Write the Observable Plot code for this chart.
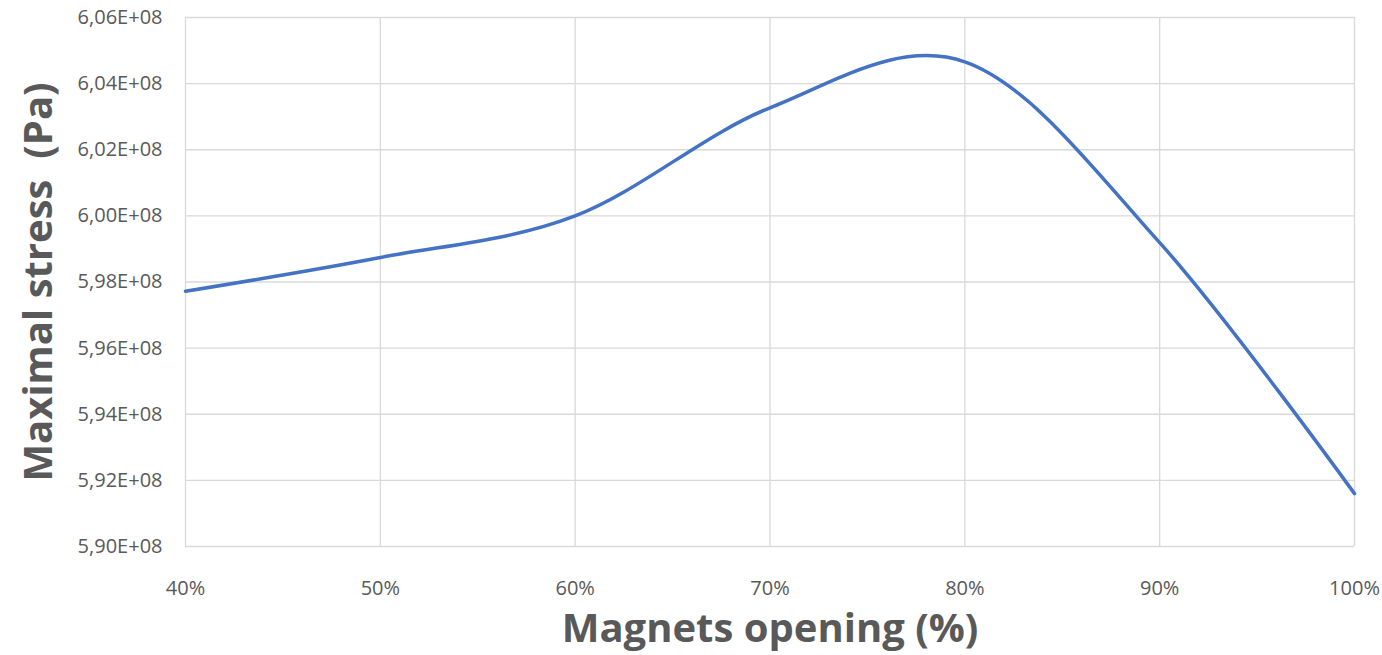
<!DOCTYPE html>
<html>
<head>
<meta charset="utf-8">
<script src="https://cdn.jsdelivr.net/npm/d3@7"></script>
<script src="https://cdn.jsdelivr.net/npm/@observablehq/plot@0.6"></script>
<style>
  html, body { margin: 0; padding: 0; background: #fff; }
  #chart svg { display: block; }
</style>
</head>
<body>
<div id="chart"></div>
<script>
// Data
const opening = [40, 50, 60, 70, 80, 90, 100];            // Magnets opening (%)
const stress = [5.9772e8, 5.9874e8, 6.0000e8, 6.0327e8, 6.0466e8, 5.9919e8, 5.9160e8]; // Maximal stress (Pa)
const xTicks = [40, 50, 60, 70, 80, 90, 100];
const yTicks = [5.90e8, 5.92e8, 5.94e8, 5.96e8, 5.98e8, 6.00e8, 6.02e8, 6.04e8, 6.06e8];
const xTitle = "Magnets opening (%)";
const yTitle = "Maximal stress \u00a0(Pa)";

const data = opening.map((x, i) => ({x, y: stress[i]}));
const fmtY = d => (d / 1e8).toFixed(2).replace(".", ",") + "E+08";
const fmtX = d => d + "%";

const font = "'Open Sans', 'Liberation Sans', sans-serif";
const gridColor = "#d9d9d9";
const textColor = "#595959";

const chart = Plot.plot({
  width: 1382,
  height: 655,
  marginLeft: 185,
  marginRight: 28,
  marginTop: 17,
  marginBottom: 109,
  style: {fontFamily: font, background: "#fff"},
  x: {domain: [40, 100]},
  y: {domain: [5.90e8, 6.06e8]},
  marks: [
    Plot.gridX(xTicks, {stroke: gridColor, strokeOpacity: 1, strokeWidth: 1.3}),
    Plot.gridY(yTicks, {stroke: gridColor, strokeOpacity: 1, strokeWidth: 1.3}),
    Plot.axisX(xTicks, {tickFormat: fmtX, tickSize: 0, tickPadding: 34, fontSize: 20, fill: textColor, label: null}),
    Plot.axisY(yTicks, {tickFormat: fmtY, tickSize: 0, tickPadding: 23, fontSize: 20, fill: textColor, label: null}),
    Plot.line(data, {x: "x", y: "y", stroke: "#4472C4", strokeWidth: 3.5, curve: "catmull-rom", tension: 0}),
    Plot.text([xTitle], {frameAnchor: "bottom", textAnchor: "middle", lineAnchor: "middle", dy: 83, fontSize: 40, fontWeight: "bold", fill: textColor}),
    Plot.text([yTitle], {frameAnchor: "left", textAnchor: "middle", lineAnchor: "middle", rotate: -90, dx: -146, fontSize: 40, fontWeight: "bold", fill: textColor})
  ]
});
document.getElementById("chart").appendChild(chart);
</script>
</body>
</html>
